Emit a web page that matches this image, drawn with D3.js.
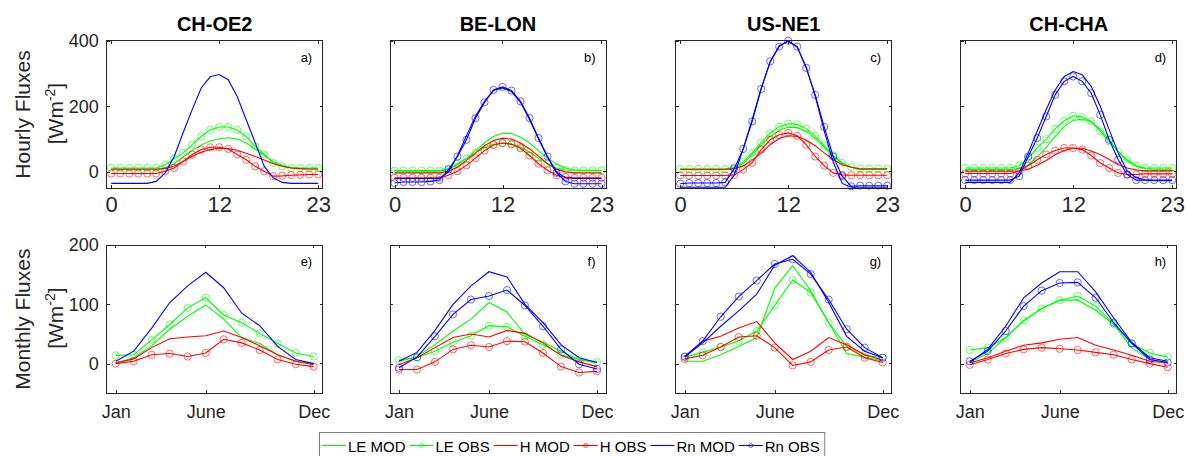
<!DOCTYPE html>
<html>
<head>
<meta charset="utf-8">
<title>Hourly and monthly fluxes</title>
<script src="https://d3js.org/d3.v7.min.js"></script>
<style>
  body { margin: 0; background: #fff; }
  svg { font-family: Arial, "Liberation Sans", sans-serif; }
  .box { fill: none; stroke: #262626; stroke-width: 1; shape-rendering: crispEdges; }
  .tick-mark { stroke: #262626; stroke-width: 1; shape-rendering: crispEdges; }
  .axis text { fill: #262626; }
  .axis .domain { display: none; }
  .axis line { stroke: #262626; shape-rendering: crispEdges; }
  .title { font-weight: bold; font-size: 20px; fill: #000; text-anchor: middle; }
  .ylabel { font-size: 21px; fill: #262626; text-anchor: middle; }
  .letter { font-size: 13px; fill: #000; text-anchor: end; }
  .series { fill: none; stroke-width: 1.1; }
  .marker { fill: none; stroke-width: 0.9; opacity: 0.65; }
  .legend text { font-size: 15px; fill: #000; }
</style>
</head>
<body>
<div id="vis"></div>
<script>
    var width = 1188,
        height = 456;

    // categories and ticks
    var hours = d3.range(0, 24);
    var months = d3.range(1, 13);
    var sites = ["CH-OE2", "BE-LON", "US-NE1", "CH-CHA"];
    var hourLetters = ["a)", "b)", "c)", "d)"];
    var monthLetters = ["e)", "f)", "g)", "h)"];
    var hourTicks = [0, 12, 23];
    var monthTicks = [1, 6, 12];
    var monthTickLabels = ["Jan", "June", "Dec"];
    var hourYTicks = [0, 200, 400];
    var monthYTicks = [0, 100, 200];
    var seriesNames = ["LE MOD", "LE OBS", "H MOD", "H OBS", "Rn MOD", "Rn OBS"];
    var seriesColors = ["#00ff00", "#00ff00", "#ff0000", "#ff0000", "#0000ff", "#0000ff"];

    // hourly values, W m-2
    var oe2HourLEmod = [9, 9, 9, 9, 9, 9, 12, 25, 45, 65, 82, 94, 101, 104, 100, 88, 70, 50, 32, 20, 13, 10, 9, 9];
    var oe2HourLEobs = [12, 12, 12, 12, 12, 12, 22, 40, 58, 83, 108, 128, 137, 137, 128, 108, 78, 53, 27, 17, 12, 12, 12, 12];
    var oe2HourHmod = [8, 8, 8, 8, 8, 8, 10, 18, 32, 48, 60, 68, 72, 71, 66, 57, 47, 36, 25, 17, 12, 10, 9, 9];
    var oe2HourHobs = [-5, -5, -5, -5, -5, -5, 2, 12, 32, 53, 68, 75, 75, 70, 53, 37, 17, 2, -13, -12, -10, -9, -8, -8];
    var oe2HourRnmod = [-35, -35, -35, -35, -35, -29, -3, 47, 120, 190, 256, 290, 297, 281, 230, 159, 89, 17, -18, -32, -35, -35, -35, -35];

    var lonHourLEmod = [2, 2, 2, 2, 2, 2, 8, 22, 42, 65, 88, 108, 118, 117, 106, 88, 65, 42, 24, 12, 6, 4, 4, 4];
    var lonHourLEobs = [4, 4, 4, 4, 4, 4, 10, 25, 40, 58, 74, 84, 88, 86, 76, 60, 42, 25, 12, 6, 5, 5, 5, 5];
    var lonHourHmod = [-3, -3, -3, -3, -3, -3, 2, 15, 35, 58, 80, 96, 103, 100, 88, 70, 48, 25, 8, 0, -3, -3, -3, -3];
    var lonHourHobs = [-18, -18, -18, -18, -18, -18, -10, 2, 20, 42, 65, 82, 88, 84, 72, 50, 25, 5, -10, -16, -18, -18, -18, -18];
    var lonHourRnmod = [-20, -20, -20, -20, -20, -20, 0, 50, 110, 170, 215, 248, 256, 245, 212, 160, 100, 45, 0, -18, -20, -20, -20, -20];
    var lonHourRnobs = [-34, -31, -31, -31, -29, -25, 7, 47, 98, 164, 212, 250, 259, 248, 215, 164, 103, 47, -3, -29, -36, -36, -36, -36];

    var ne1HourLEmod = [7, 7, 7, 7, 7, 7, 10, 25, 52, 82, 108, 127, 136, 135, 124, 103, 75, 46, 25, 14, 8, 8, 8, 8];
    var ne1HourLEobs = [9, 9, 9, 9, 9, 9, 14, 30, 58, 90, 118, 138, 147, 145, 132, 110, 80, 50, 28, 15, 10, 10, 10, 10];
    var ne1HourHmod = [8, 8, 8, 8, 8, 8, 10, 18, 35, 58, 83, 102, 110, 108, 97, 80, 58, 38, 22, 14, 9, 9, 9, 9];
    var ne1HourHobs = [-11, -11, -11, -11, -11, -11, -9, 7, 28, 68, 98, 113, 119, 110, 83, 47, 19, -3, -9, -10, -10, -10, -10, -10];
    var ne1HourRnmod = [-47, -47, -47, -47, -47, -47, -10, 70, 160, 255, 335, 385, 398, 380, 320, 230, 125, 30, -35, -47, -47, -47, -47, -47];
    var ne1HourRnobs = [-36, -34, -34, -34, -34, -32, 10, 70, 154, 253, 337, 382, 400, 382, 317, 235, 137, 47, -13, -44, -42, -42, -42, -42];

    var chaHourLEmod = [7, 7, 7, 7, 7, 7, 10, 22, 45, 75, 108, 138, 157, 161, 152, 130, 98, 62, 33, 17, 10, 8, 8, 8];
    var chaHourLEobs = [12, 12, 12, 12, 12, 12, 19, 43, 73, 100, 131, 156, 171, 167, 154, 124, 93, 62, 37, 19, 12, 12, 12, 12];
    var chaHourHmod = [2, 2, 2, 2, 2, 2, 3, 8, 20, 35, 52, 65, 72, 72, 64, 53, 38, 22, 12, 6, 3, 3, 3, 3];
    var chaHourHobs = [-5, -5, -5, -5, -5, -5, 2, 19, 37, 53, 65, 73, 73, 68, 50, 27, 12, -3, -8, -8, -6, -6, -6, -6];
    var chaHourRnmod = [-32, -32, -32, -32, -32, -32, -3, 58, 124, 190, 250, 291, 306, 296, 261, 200, 129, 58, 2, -18, -24, -27, -27, -27];
    var chaHourRnobs = [-25, -25, -25, -25, -25, -25, -13, 47, 103, 169, 235, 276, 291, 276, 240, 174, 98, 37, -8, -25, -25, -25, -25, -25];

    // monthly values, W m-2
    var oe2MonLEmod = [1, 10, 30, 58, 80, 99, 75, 44, 34, 15, 4, 0];
    var oe2MonLEobs = [14, 15, 40, 66, 94, 111, 82, 69, 51, 34, 18, 12];
    var oe2MonHmod = [1, 8, 27, 42, 45, 47, 55, 44, 30, 15, 4, -2];
    var oe2MonHobs = [0, 4, 15, 17, 12, 18, 41, 35, 23, 7, -1, -5];
    var oe2MonRnmod = [4, 21, 60, 103, 131, 154, 128, 85, 64, 29, 7, 0];

    var lonMonLEmod = [4, 12, 32, 55, 75, 103, 87, 49, 36, 21, 7, 1];
    var lonMonLEobs = [6, 10, 21, 36, 47, 64, 62, 46, 32, 15, 7, 3];
    var lonMonHmod = [-2, 10, 27, 44, 50, 45, 56, 51, 35, 14, 3, -5];
    var lonMonHobs = [-10, -10, 3, 24, 31, 28, 38, 37, 18, -5, -15, -13];
    var lonMonRnmod = [4, 19, 56, 100, 131, 155, 146, 100, 69, 32, 10, 2];
    var lonMonRnobs = [-7, 11, 46, 83, 108, 114, 124, 98, 63, 24, -1, -9];

    var ne1MonLEmod = [4, 4, 15, 29, 44, 127, 165, 123, 69, 17, 11, 5];
    var ne1MonLEobs = [11, 19, 28, 38, 55, 98, 141, 120, 69, 29, 14, 10];
    var ne1MonHmod = [11, 38, 46, 60, 71, 35, 7, 21, 44, 32, 15, 6];
    var ne1MonHobs = [8, 14, 28, 45, 47, 27, -3, 3, 23, 28, 10, 2];
    var ne1MonRnmod = [11, 35, 63, 89, 117, 166, 182, 154, 103, 46, 21, 10];
    var ne1MonRnobs = [12, 38, 79, 113, 140, 168, 176, 151, 108, 58, 27, 10];

    var chaMonLEmod = [2, 17, 44, 72, 93, 107, 107, 90, 66, 27, 7, 2];
    var chaMonLEobs = [23, 27, 44, 73, 93, 107, 114, 97, 67, 34, 18, 11];
    var chaMonHmod = [1, 10, 21, 31, 35, 41, 44, 31, 23, 14, 4, 1];
    var chaMonHobs = [-2, 7, 17, 24, 27, 25, 23, 19, 15, 7, 0, -6];
    var chaMonRnmod = [2, 24, 63, 111, 136, 155, 155, 121, 77, 36, 10, 4];
    var chaMonRnobs = [4, 21, 55, 97, 123, 136, 137, 111, 69, 34, 7, 2];

    // one entry per series: LE MOD, LE OBS, H MOD, H OBS, Rn MOD, Rn OBS (null = not shown)
    var hourSeries = [
        [oe2HourLEmod, oe2HourLEobs, oe2HourHmod, oe2HourHobs, oe2HourRnmod, null],
        [lonHourLEmod, lonHourLEobs, lonHourHmod, lonHourHobs, lonHourRnmod, lonHourRnobs],
        [ne1HourLEmod, ne1HourLEobs, ne1HourHmod, ne1HourHobs, ne1HourRnmod, ne1HourRnobs],
        [chaHourLEmod, chaHourLEobs, chaHourHmod, chaHourHobs, chaHourRnmod, chaHourRnobs]
    ];
    var monSeries = [
        [oe2MonLEmod, oe2MonLEobs, oe2MonHmod, oe2MonHobs, oe2MonRnmod, null],
        [lonMonLEmod, lonMonLEobs, lonMonHmod, lonMonHobs, lonMonRnmod, lonMonRnobs],
        [ne1MonLEmod, ne1MonLEobs, ne1MonHmod, ne1MonHobs, ne1MonRnmod, ne1MonRnobs],
        [chaMonLEmod, chaMonLEobs, chaMonHmod, chaMonHobs, chaMonRnmod, chaMonRnobs]
    ];

    var panelLeft = [106.7, 390, 675.7, 960.7],
        panelWidth = 216;

    var rows = [{
        top: 40.7, bottom: 188.3,
        xDomain: [-0.5, 23.5], yDomain: [-50, 400],
        xs: hours, data: hourSeries, letters: hourLetters,
        xTicks: hourTicks, xFormat: function(d) { return d; },
        xFont: 22, xPad: 8, yTicks: hourYTicks,
        label: "Hourly Fluxes", titles: true
    }, {
        top: 245, bottom: 393.3,
        xDomain: [0.5, 12.5], yDomain: [-50, 200],
        xs: months, data: monSeries, letters: monthLetters,
        xTicks: monthTicks, xFormat: function(d, i) { return monthTickLabels[i]; },
        xFont: 18, xPad: 12, yTicks: monthYTicks,
        label: "Monthly Fluxes", titles: false
    }];

    var svg = d3.select("#vis").append("svg")
        .attr("width", width)
        .attr("height", height);

    var tickLen = 3;

    rows.forEach(function(row) {
        var y = d3.scaleLinear().domain(row.yDomain).range([row.bottom, row.top]);

        // y label, two lines
        var cy = (row.top + row.bottom) / 2;
        svg.append("text")
            .attr("class", "ylabel")
            .attr("transform", "translate(29.5," + cy + ") rotate(-90)")
            .text(row.label);
        var unit = svg.append("text")
            .attr("class", "ylabel")
            .attr("transform", "translate(62.5," + (cy - 1) + ") rotate(-90)");
        unit.append("tspan").text("[Wm");
        unit.append("tspan").attr("baseline-shift", "super").attr("font-size", "14px").text("-2");
        unit.append("tspan").text("]");

        panelLeft.forEach(function(left, p) {
            var x = d3.scaleLinear().domain(row.xDomain).range([left, left + panelWidth]);
            var g = svg.append("g");

            // series
            row.data[p].forEach(function(values, s) {
                if (!values) return;
                var line = d3.line()
                    .x(function(d, i) { return x(row.xs[i]); })
                    .y(function(d) { return y(d); });
                g.append("path")
                    .datum(values)
                    .attr("class", "series")
                    .attr("stroke", seriesColors[s])
                    .attr("d", line);
                if (s % 2 === 1) {
                    g.selectAll(null)
                        .data(values)
                        .enter().append("circle")
                        .attr("class", "marker")
                        .attr("stroke", seriesColors[s])
                        .attr("cx", function(d, i) { return x(row.xs[i]); })
                        .attr("cy", function(d) { return y(d); })
                        .attr("r", 3.6);
                }
            });

            // box
            g.append("rect")
                .attr("class", "box")
                .attr("x", left)
                .attr("y", row.top)
                .attr("width", panelWidth)
                .attr("height", row.bottom - row.top);

            // bottom and left axes with inward ticks
            g.append("g")
                .attr("class", "axis")
                .attr("transform", "translate(0," + row.bottom + ")")
                .style("font-size", row.xFont + "px")
                .call(d3.axisBottom(x)
                    .tickValues(row.xTicks)
                    .tickFormat(row.xFormat)
                    .tickSizeInner(-tickLen)
                    .tickSizeOuter(0)
                    .tickPadding(row.xPad));

            var yAxis = d3.axisLeft(y)
                .tickValues(row.yTicks)
                .tickSizeInner(-tickLen)
                .tickSizeOuter(0)
                .tickPadding(8);
            if (p > 0) yAxis.tickFormat("");
            g.append("g")
                .attr("class", "axis")
                .attr("transform", "translate(" + left + ",0)")
                .style("font-size", "18px")
                .call(yAxis);

            // mirrored ticks on top and right
            g.selectAll(null)
                .data(row.xTicks)
                .enter().append("line")
                .attr("class", "tick-mark")
                .attr("x1", function(d) { return x(d); })
                .attr("x2", function(d) { return x(d); })
                .attr("y1", row.top)
                .attr("y2", row.top + tickLen);
            g.selectAll(null)
                .data(row.yTicks)
                .enter().append("line")
                .attr("class", "tick-mark")
                .attr("x1", left + panelWidth)
                .attr("x2", left + panelWidth - tickLen)
                .attr("y1", function(d) { return y(d); })
                .attr("y2", function(d) { return y(d); });

            // panel letter
            g.append("text")
                .attr("class", "letter")
                .attr("x", left + panelWidth - 10.5)
                .attr("y", row.top + 21)
                .text(row.letters[p]);

            if (row.titles) {
                svg.append("text")
                    .attr("class", "title")
                    .attr("x", left + panelWidth / 2)
                    .attr("y", 30.5)
                    .text(sites[p]);
            }
        });
    });

    // legend
    var legend = svg.append("g").attr("class", "legend");
    var legendBox = legend.append("rect")
        .attr("x", 319.5)
        .attr("y", 432.5)
        .attr("height", 30)
        .attr("fill", "#fff")
        .attr("stroke", "#7f7f7f")
        .attr("stroke-width", 1);

    var lx = 322;
    seriesNames.forEach(function(name, s) {
        legend.append("line")
            .attr("x1", lx)
            .attr("x2", lx + 24)
            .attr("y1", 445.5)
            .attr("y2", 445.5)
            .attr("stroke", seriesColors[s])
            .attr("stroke-width", 1.1);
        if (s % 2 === 1) {
            legend.append("circle")
                .attr("cx", lx + 12)
                .attr("cy", 445.5)
                .attr("r", 2)
                .attr("fill", "none")
                .attr("stroke", seriesColors[s])
                .attr("opacity", 0.65);
        }
        var t = legend.append("text")
            .attr("x", lx + 26)
            .attr("y", 451.5)
            .text(name);
        lx += 26 + t.node().getComputedTextLength() + 4;
    });
    legendBox.attr("width", lx - 319.5 + 1);
</script>
</body>
</html>
